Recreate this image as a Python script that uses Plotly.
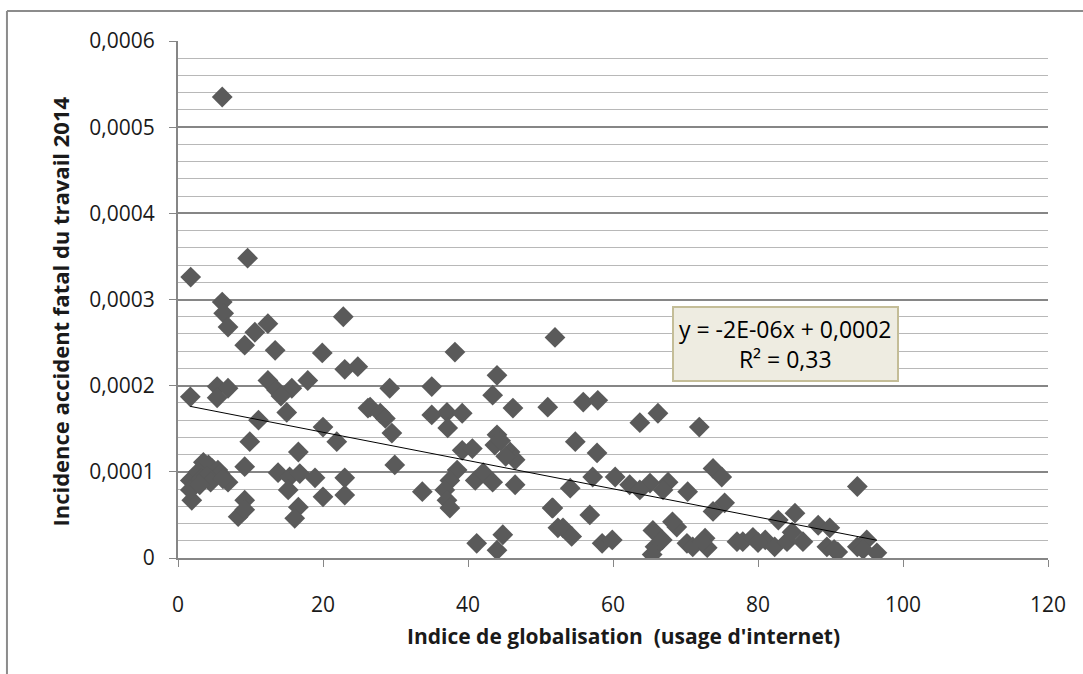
import numpy as np
import plotly.graph_objects as go

# Indice de globalisation (usage d'internet)
internet_usage = [
    6.1, 1.75, 9.6, 6.1, 6.3, 6.9, 9.2, 10.6, 12.4, 13.4, 22.8, 19.9, 23.0, 24.8, 26.2,
    1.7, 5.4, 6.9, 5.4, 12.4, 13.6, 15.7, 17.9, 14.2, 15.0, 11.1, 20.0, 21.9, 9.9,
    16.6, 9.2, 3.5, 4.7, 4.2, 5.5, 1.7, 5.8, 6.9, 2.5, 1.9, 1.7, 9.2, 8.3, 9.2,
    2.8, 3.2, 4.0, 4.5, 3.0, 6.2,
    13.8, 15.4, 16.8, 18.9, 15.2, 20.0, 23.0, 23.0, 16.6, 16.1, 26.5, 27.9, 28.6,
    52.0, 38.2, 44.0, 29.2, 35.0, 43.4, 46.2, 51.0, 35.0, 37.1, 39.2, 37.2, 29.5, 44.0,
    43.7, 45.8, 46.5, 39.2, 40.6, 29.9, 38.5, 37.5, 41.0, 42.1, 43.4, 46.5, 33.7, 36.8,
    37.1, 37.5, 41.2, 44.8, 44.0, 51.6, 52.4, 44.5, 45.2,
    55.9, 57.9, 63.7, 66.2, 71.9, 54.8, 57.8, 57.2, 54.1, 60.3, 62.3, 65.1, 67.6, 63.7,
    66.9, 70.3, 73.8, 75.0, 75.4, 73.8, 51.7, 56.8, 53.1, 54.3, 58.5, 59.9, 65.5, 68.8,
    65.8, 65.4, 66.8, 70.2, 72.7, 73.0, 77.1, 68.2, 71.0, 72.3,
    93.7, 85.1, 82.8, 88.3, 89.9, 77.9, 79.3, 81.0, 82.3, 84.0, 86.2, 89.5, 91.0, 93.7,
    95.0, 96.4, 84.7, 80.0, 90.5, 94.5,
]

# Incidence accident fatal du travail 2014
fatal_incidence = [
    0.000535, 0.000326, 0.000348, 0.000297, 0.000284, 0.000268, 0.000247, 0.000262, 0.000272, 0.000241,
    0.000280, 0.000238, 0.000219, 0.000222, 0.000174,
    0.000187, 0.000199, 0.000197, 0.000186, 0.000206, 0.000195, 0.000197, 0.000206, 0.000188,
    0.000169, 0.000160, 0.000152, 0.000135, 0.000135,
    0.000123, 0.000106, 0.000111, 0.000104, 0.000108, 0.000102, 0.000090, 0.000098, 0.000088, 0.000095,
    0.000067, 0.000079, 0.000067, 0.000048, 0.000056,
    0.000100, 0.000092, 0.000095, 0.000088, 0.000085, 0.000092,
    0.000099, 0.000094, 0.000098, 0.000093, 0.000079, 0.000071, 0.000093, 0.000073, 0.000059, 0.000046,
    0.000175, 0.000168, 0.000162,
    0.000256, 0.000239, 0.000212, 0.000197, 0.000199, 0.000189, 0.000174, 0.000175, 0.000166, 0.000169,
    0.000168, 0.000151, 0.000145, 0.000143,
    0.000131, 0.000123, 0.000114, 0.000125, 0.000127, 0.000108, 0.000102, 0.000090, 0.000090, 0.000099,
    0.000088, 0.000085, 0.000077, 0.000079,
    0.000067, 0.000058, 0.000017, 0.000027, 0.000009, 0.000058, 0.000035, 0.000136, 0.000118,
    0.000181, 0.000183, 0.000157, 0.000168, 0.000152, 0.000135, 0.000122, 0.000094, 0.000081, 0.000094,
    0.000085, 0.000087, 0.000088, 0.000079,
    0.000079, 0.000077, 0.000104, 0.000094, 0.000064, 0.000054, 0.000058, 0.000050, 0.000035, 0.000025,
    0.000017, 0.000021, 0.000032, 0.000036,
    0.000013, 0.000004, 0.000021, 0.000017, 0.000023, 0.000012, 0.000019, 0.000042, 0.000013, 0.000019,
    0.000083, 0.000052, 0.000044, 0.000038, 0.000035, 0.000019, 0.000024, 0.000021, 0.000013, 0.000019,
    0.000019, 0.000013, 0.000007, 0.000013,
    0.000021, 0.000006, 0.000030, 0.000018, 0.000010, 0.000010,
]

x_ticks = [0, 20, 40, 60, 80, 100, 120]
y_ticks = [0, 0.0001, 0.0002, 0.0003, 0.0004, 0.0005, 0.0006]
y_tick_labels = ["0", "0,0001", "0,0002", "0,0003", "0,0004", "0,0005", "0,0006"]

x_title = "Indice de globalisation\u00a0 (usage d'internet)"
y_title = "Incidence accident fatal du travail 2014"
eq_text = "y = -2E-06x + 0,0002<br>R² = 0,33"

x = np.array(internet_usage)
y = np.array(fatal_incidence)
slope, intercept = np.polyfit(x, y, 1)
xl = np.array([x.min(), x.max()])
yl = slope * xl + intercept

FONT = "Open Sans"
AXIS_COL = "#868686"
TXT = "#1a1a1a"

fig = go.Figure()
fig.add_trace(go.Scatter(
    x=x, y=y, mode="markers",
    marker=dict(symbol="diamond", size=16, color="#5a5a5a", line=dict(width=0)),
    showlegend=False, hoverinfo="x+y",
))
fig.add_trace(go.Scatter(
    x=xl, y=yl, mode="lines", line=dict(color="black", width=1),
    showlegend=False, hoverinfo="skip",
))

fig.update_layout(
    width=1083, height=674,
    margin=dict(l=178, r=35, t=41, b=116),
    paper_bgcolor="white", plot_bgcolor="white",
    font=dict(family=FONT, size=21, color=TXT),
    xaxis=dict(
        range=[0, 120], tickvals=x_ticks, ticktext=[str(v) for v in x_ticks],
        showgrid=False, zeroline=False,
        showline=True, linecolor=AXIS_COL, linewidth=2,
        ticks="outside", ticklen=7, tickcolor=AXIS_COL, tickwidth=1,
        tickfont=dict(family=FONT, size=21, color=TXT),
        ticklabelstandoff=20,
    ),
    yaxis=dict(
        range=[0, 0.0006], tickvals=y_ticks, ticktext=y_tick_labels,
        showgrid=True, gridcolor=AXIS_COL, gridwidth=2,
        zeroline=False,
        showline=True, linecolor=AXIS_COL, linewidth=2,
        ticks="outside", ticklen=7, tickcolor=AXIS_COL, tickwidth=1,
        tickfont=dict(family=FONT, size=21, color=TXT),
        ticklabelstandoff=10,
        minor=dict(dtick=0.00002, showgrid=True, gridcolor="#b8b8b8", gridwidth=1, ticks=""),
    ),
    shapes=[
        dict(type="line", xref="paper", yref="paper", x0=-0.1966, x1=1.05, y0=1.058, y1=1.058,
             line=dict(color="#8c8c8c", width=2)),
        dict(type="line", xref="paper", yref="paper", x0=-0.1966, x1=-0.1966, y0=-0.3, y1=1.058,
             line=dict(color="#8c8c8c", width=2)),
    ],
    annotations=[
        dict(text=eq_text, xref="paper", yref="paper", x=0.6985, y=0.413,
             xanchor="center", yanchor="middle", showarrow=False,
             font=dict(family=FONT, size=23, color="black"), align="center",
             bgcolor="#eeece1", bordercolor="#c4bd97", borderwidth=2, borderpad=5),
        dict(text=f"<b>{x_title}</b>", xref="paper", yref="paper", x=0.5115, y=-0.15,
             xanchor="center", yanchor="middle", showarrow=False,
             font=dict(family=FONT, size=21, color=TXT)),
        dict(text=f"<b>{y_title}</b>", xref="paper", yref="paper", x=-0.136, y=0.476,
             xanchor="center", yanchor="middle", showarrow=False, textangle=-90,
             font=dict(family=FONT, size=22, color=TXT)),
    ],
)

fig.write_html("out.html")
